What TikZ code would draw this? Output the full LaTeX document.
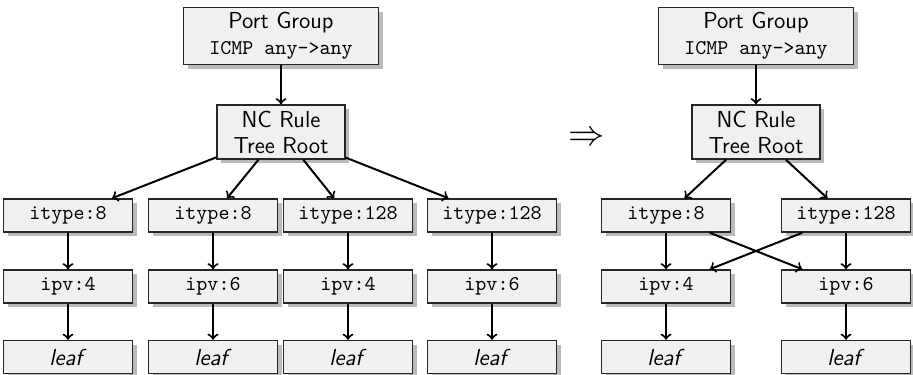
\documentclass[tikz,border=0pt]{standalone}
\usetikzlibrary{shadows}
\newcommand{\pxu}{0.476pt}
\newcommand{\code}[1]{{\fontsize{10}{12.4}\selectfont\ttfamily #1}}
\begin{document}
\begin{tikzpicture}[x=0.476pt, y=-0.476pt,
  box/.style={draw=black!85, fill=black!6, line width=0.7pt, inner sep=0pt,
    font=\fontsize{11}{12.4}\selectfont\sffamily, align=center,
    drop shadow={fill=black!27, opacity=1, shadow xshift=2pt, shadow yshift=-2pt}},
  small/.style={box, minimum width=129*\pxu, minimum height=33*\pxu},
  pg/.style={box, minimum width=195*\pxu, minimum height=57*\pxu},
  nc/.style={box, minimum width=128*\pxu, minimum height=54*\pxu},
  arr/.style={->, line width=0.95pt}]
\useasboundingbox (0,0) rectangle (913,375);
% left tree
\node[pg] (pgL) at (281,36) {Port Group\\\code{ICMP any->any}};
\node[nc] (ncL) at (281,132) {NC Rule\\Tree Root};
\node[small] (t1) at (68,215.5) {\code{itype:8}};
\node[small] (t2) at (213,215.5) {\code{itype:8}};
\node[small] (t3) at (348,215.5) {\code{itype:128}};
\node[small] (t4) at (492,215.5) {\code{itype:128}};
\node[small] (p1) at (68,286.5) {\code{ipv:4}};
\node[small] (p2) at (213,286.5) {\code{ipv:6}};
\node[small] (p3) at (348,286.5) {\code{ipv:4}};
\node[small] (p4) at (492,286.5) {\code{ipv:6}};
\node[small] (l1) at (68,357) {\textit{leaf}};
\node[small] (l2) at (213,357) {\textit{leaf}};
\node[small] (l3) at (348,357) {\textit{leaf}};
\node[small] (l4) at (492,357) {\textit{leaf}};
\draw[arr] (pgL) -- (ncL);
\foreach \i in {1,2,3,4} {
  \draw[arr] (ncL) -- (t\i);
  \draw[arr] (t\i) -- (p\i);
  \draw[arr] (p\i) -- (l\i);
}
% implication arrow
\node[inner sep=0pt, font=\fontsize{19}{20}\selectfont] (impl) at (587,139) {$\Rightarrow$};
% right tree
\node[pg] (pgR) at (756,36) {Port Group\\\code{ICMP any->any}};
\node[nc] (ncR) at (756,132) {NC Rule\\Tree Root};
\node[small] (rt1) at (666,215.5) {\code{itype:8}};
\node[small] (rt2) at (846,215.5) {\code{itype:128}};
\node[small] (rp1) at (666,286.5) {\code{ipv:4}};
\node[small] (rp2) at (846,286.5) {\code{ipv:6}};
\node[small] (rl1) at (666,357) {\textit{leaf}};
\node[small] (rl2) at (846,357) {\textit{leaf}};
\draw[arr] (pgR) -- (ncR);
\draw[arr] (ncR) -- (rt1);
\draw[arr] (ncR) -- (rt2);
\draw[arr] (rt1) -- (rp1);
\draw[arr] (rt1) -- (rp2);
\draw[arr] (rt2) -- (rp1);
\draw[arr] (rt2) -- (rp2);
\draw[arr] (rp1) -- (rl1);
\draw[arr] (rp2) -- (rl2);
\end{tikzpicture}
\end{document}
